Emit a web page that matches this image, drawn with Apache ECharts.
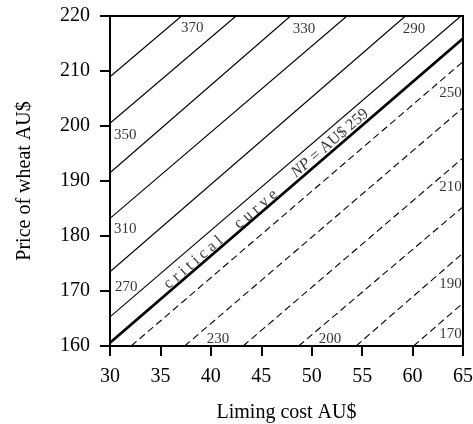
<!DOCTYPE html>
<html><head><meta charset="utf-8">
<script src="https://cdn.jsdelivr.net/npm/echarts@6/dist/echarts.min.js"></script>
<style>html,body{margin:0;padding:0;background:#fff}#c{width:473px;height:424px}</style>
</head><body><div id="c"></div>
<script>
// axis ticks
const xTicks = [30, 35, 40, 45, 50, 55, 60, 65];
const yTicks = [160, 170, 180, 190, 200, 210, 220];
// iso net-profit lines above the critical curve: endpoints [liming cost, wheat price]
const solidNP = [370, 350, 330, 310, 290, 270];
const solidStart = [[30, 208.96], [30, 200.5], [30, 191.5], [30, 183.2], [30, 173.5], [30, 165.3]];
const solidEnd = [[37.1, 220], [42.5, 220], [47.9, 220], [53.5, 220], [59.3, 220], [64.8, 220]];
// critical curve NP = 259
const criticalNP = 259;
const criticalLine = [[30, 160.6], [65, 215.9]];
// iso net-profit lines below the critical curve
const dashedNP = [250, 230, 210, 190, 170, 150];
const dashedStart = [[32.1, 160], [37.4, 160], [43.2, 160], [48.7, 160], [54.4, 160], [60.1, 160]];
const dashedEnd = [[65, 211.7], [65, 203.3], [65, 194.2], [65, 185.3], [65, 176.9], [65, 167.8]];
// printed contour labels and where they sit (data coordinates)
const levelLabels = ['370', '330', '290', '350', '310', '270', '250', '210', '190', '170', '230', '200'];
const levelLabelPos = [[38.16, 217.8], [49.24, 217.6], [60.14, 217.6], [31.5, 198.4], [31.5, 181.2], [31.6, 170.7],
  [63.76, 206.05], [63.76, 188.97], [63.76, 171.2], [63.76, 162.2], [40.7, 161.3], [51.81, 161.3]];
// critical curve caption pieces
const critTexts = ['c r i t i c a l', 'c u r v e', '{i|NP} = AU$ 259'];
const critTextPos = [[38.26, 175.18], [44.46, 184.87], [51.81, 196.85]];

const FONT = "'Liberation Serif', 'DejaVu Serif', 'Times New Roman', serif";
const series = [];
solidNP.forEach((np, i) => {
  series.push({ type: 'line', name: 'NP ' + np, data: [solidStart[i], solidEnd[i]], symbol: 'none', silent: true,
    lineStyle: { color: '#000', width: 1.1 } });
});
series.push({ type: 'line', name: 'critical ' + criticalNP, data: criticalLine, symbol: 'none', silent: true,
  lineStyle: { color: '#000', width: 2.8 } });
dashedNP.forEach((np, i) => {
  series.push({ type: 'line', name: 'NP ' + np, data: [dashedStart[i], dashedEnd[i]], symbol: 'none', silent: true,
    lineStyle: { color: '#000', width: 1.1, type: [7, 4] } });
});
series.push({ type: 'scatter', silent: true, symbolSize: 1, itemStyle: { color: 'transparent' },
  data: levelLabelPos.map((p, i) => ({ value: p, name: levelLabels[i] })),
  label: { show: true, position: 'inside', formatter: p => p.name, color: '#000', fontFamily: FONT, fontSize: 15 } });
series.push({ type: 'scatter', silent: true, symbolSize: 1, itemStyle: { color: 'transparent' },
  data: critTextPos.map((p, i) => ({ value: p, name: critTexts[i] })),
  label: { show: true, position: 'inside', rotate: 40.7, formatter: p => p.name, color: '#000', fontFamily: FONT, fontSize: 16,
    rich: { i: { fontStyle: 'italic', fontFamily: FONT, fontSize: 16, color: '#000' } } } });

const chart = echarts.init(document.getElementById('c'), null, { renderer: 'canvas' });
chart.setOption({
  animation: false,
  backgroundColor: '#fff',
  grid: { left: 110, top: 16, right: 10, bottom: 78, containLabel: false, outerBoundsMode: 'none',
    show: true, borderColor: '#000', borderWidth: 2, backgroundColor: 'transparent' },
  xAxis: {
    type: 'value', min: xTicks[0], max: xTicks[xTicks.length - 1], interval: 5,
    name: 'Liming cost AU$', nameLocation: 'middle', nameGap: 57,
    nameTextStyle: { fontFamily: FONT, fontSize: 20, color: '#000' },
    axisLine: { lineStyle: { color: '#000', width: 2 } },
    axisTick: { show: true, length: 10, lineStyle: { color: '#000', width: 2 } },
    axisLabel: { margin: 21, fontFamily: FONT, fontSize: 20, color: '#000' },
    splitLine: { show: false }
  },
  yAxis: {
    type: 'value', min: yTicks[0], max: yTicks[yTicks.length - 1], interval: 10,
    name: 'Price of wheat AU$', nameLocation: 'middle', nameGap: 75,
    nameTextStyle: { fontFamily: FONT, fontSize: 20, color: '#000' },
    axisLine: { lineStyle: { color: '#000', width: 2 } },
    axisTick: { show: true, length: 10, lineStyle: { color: '#000', width: 2 } },
    axisLabel: { margin: 20, fontFamily: FONT, fontSize: 20, color: '#000' },
    splitLine: { show: false }
  },
  series: series
});
</script></body></html>
